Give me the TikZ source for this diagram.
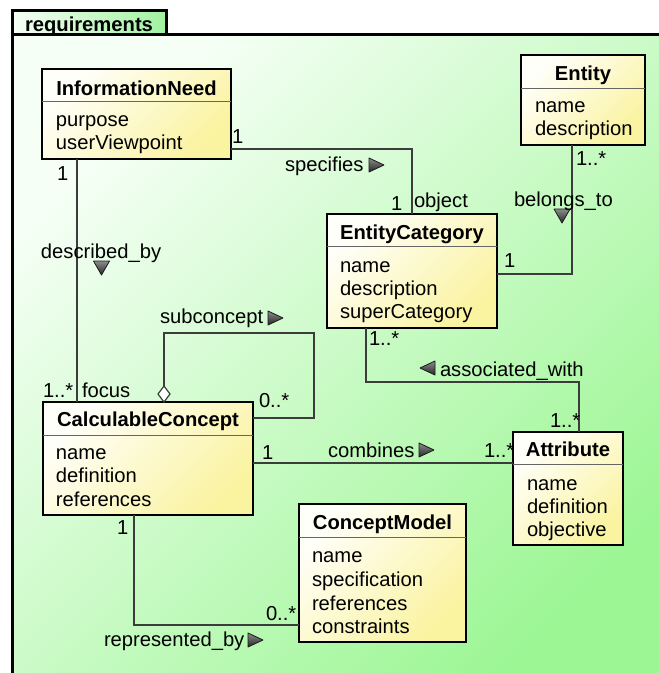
\documentclass[tikz,border=0pt]{standalone}
\usepackage{fontspec}
\setmainfont{Liberation Sans}
\usetikzlibrary{shapes.geometric}
\definecolor{pkglight}{RGB}{246,255,246}
\definecolor{pkggreen}{RGB}{156,246,148}
\definecolor{pkgtab}{RGB}{160,242,160}
\definecolor{boxlight}{RGB}{255,255,250}
\definecolor{boxyellow}{RGB}{250,243,160}
\definecolor{linegray}{RGB}{60,60,60}
\begin{document}
\begin{tikzpicture}[x=1pt,y=-1pt,
  every node/.style={font=\fontsize{20.2}{24}\selectfont, inner sep=0pt, outer sep=0pt},
  frame/.style={draw=black, line width=3pt},
  classbox/.style={draw=black, line width=2.8pt, anchor=north west,
    top color=boxlight, bottom color=boxyellow, shading angle=45},
  sepline/.style={draw=black!60, line width=1pt},
  title/.style={anchor=base, font=\fontsize{20.2}{24}\selectfont\bfseries},
  attr/.style={anchor=base west},
  lbl/.style={anchor=base west},
  assoc/.style={draw=linegray, line width=1.2pt},
  aggdiamond/.style={diamond, draw=linegray, fill=white, line width=1.2pt,
    minimum width=12pt, minimum height=16pt},
  dirtri/.style={draw=black!90, line width=0.8pt, line join=round,
    top color=black!45, bottom color=black!85},
  pics/dirright/.style={code={\shadedraw[dirtri] (-7,-7) -- (8,0) -- (-7,7) -- cycle;}},
  pics/dirleft/.style={code={\shadedraw[dirtri] (7,-7) -- (-8,0) -- (7,7) -- cycle;}},
  pics/dirdown/.style={code={\shadedraw[dirtri] (-8,-7) -- (8,-7) -- (0,7) -- cycle;}},
]
\useasboundingbox (0,0) rectangle (659,673);
\clip (0,0) rectangle (659,673);
\fill[white] (0,0) rectangle (659,673);

% package frame with its name tab
\shade[top color=pkglight, bottom color=pkggreen, shading angle=45] (12,34) rectangle (680,690);
\shade[left color=pkglight, right color=pkgtab] (12,10) rectangle (166,34);
\draw[frame] (12,34) rectangle (166,10);
\draw[frame] (12,690) -- (12,34) -- (680,34);
\node[anchor=base west, font=\fontsize{20.2}{24}\selectfont\bfseries] (pkgname) at (25,31) {requirements};

% classes
\node[classbox, minimum width=189pt, minimum height=90pt] (infoneed) at (42,69) {};
\draw[sepline] (infoneed.west |- 0,101) -- (infoneed.east |- 0,101);
\node[title] (infoneed-t) at (136.5,95) {InformationNeed};
\node[attr] (infoneed-a1) at (56,126) {purpose};
\node[attr] (infoneed-a2) at (56,149) {userViewpoint};

\node[classbox, minimum width=124pt, minimum height=90pt] (entity) at (521,55) {};
\draw[sepline] (entity.west |- 0,88) -- (entity.east |- 0,88);
\node[title] (entity-t) at (583,80) {Entity};
\node[attr] (entity-a1) at (535,112.5) {name};
\node[attr] (entity-a2) at (535,135.5) {description};

\node[classbox, minimum width=170pt, minimum height=114pt] (entcat) at (327,214) {};
\draw[sepline] (entcat.west |- 0,246) -- (entcat.east |- 0,246);
\node[title] (entcat-t) at (412,239) {EntityCategory};
\node[attr] (entcat-a1) at (340,272) {name};
\node[attr] (entcat-a2) at (340,295) {description};
\node[attr] (entcat-a3) at (340,318.5) {superCategory};

\node[classbox, minimum width=210pt, minimum height=113pt] (calc) at (43,402) {};
\draw[sepline] (calc.west |- 0,435) -- (calc.east |- 0,435);
\node[title] (calc-t) at (148,426) {CalculableConcept};
\node[attr] (calc-a1) at (56,459) {name};
\node[attr] (calc-a2) at (56,482.5) {definition};
\node[attr] (calc-a3) at (56,506) {references};

\node[classbox, minimum width=110pt, minimum height=113pt] (attr) at (513,432) {};
\draw[sepline] (attr.west |- 0,464) -- (attr.east |- 0,464);
\node[title] (attr-t) at (568,456) {Attribute};
\node[attr] (attr-a1) at (527,490) {name};
\node[attr] (attr-a2) at (527,513) {definition};
\node[attr] (attr-a3) at (527,536.5) {objective};

\node[classbox, minimum width=167pt, minimum height=138pt] (cmodel) at (299,504) {};
\draw[sepline] (cmodel.west |- 0,537) -- (cmodel.east |- 0,537);
\node[title] (cmodel-t) at (382.5,529) {ConceptModel};
\node[attr] (cmodel-a1) at (312,562.5) {name};
\node[attr] (cmodel-a2) at (312,586.5) {specification};
\node[attr] (cmodel-a3) at (312,610) {references};
\node[attr] (cmodel-a4) at (312,633) {constraints};

% associations
\draw[assoc] (infoneed.east |- 0,149) -| (entcat.north);
\draw[assoc] (entity.south -| 572,0) |- (entcat.east |- 0,274);
\draw[assoc] (infoneed.south -| 77,0) -- (calc.north -| 77,0);
\node[aggdiamond] (agg) at (164,394) {};
\draw[assoc] (agg.north) |- (314,333) |- (calc.east |- 0,418);
\draw[assoc] (calc.east |- 0,463) -- (attr.west |- 0,463);
\draw[assoc] (entcat.south -| 366,0) |- (579,382) -- (attr.north -| 579,0);
\draw[assoc] (calc.south -| 134,0) |- (cmodel.west |- 0,625);

% reading-direction markers
\pic at (376,165) {dirright};
\pic at (562,216) {dirdown};
\pic at (101.5,268) {dirdown};
\pic at (275,318) {dirright};
\pic at (426,450) {dirright};
\pic at (428,368) {dirleft};
\pic at (255,640) {dirright};

% association names, roles and multiplicities
\node[lbl] (m-spec-src) at (232,143) {1};
\node[lbl] (m-spec-name) at (285,171) {specifies};
\node[lbl] (m-spec-dst) at (391,210) {1};
\node[lbl] (m-spec-role) at (414,207) {object};
\node[lbl] (m-bel-src) at (576,165) {1..*};
\node[lbl] (m-bel-name) at (514,206) {belongs\_to};
\node[lbl] (m-bel-dst) at (504,267) {1};
\node[lbl] (m-desc-src) at (57,180) {1};
\node[lbl] (m-desc-name) at (41,258) {described\_by};
\node[lbl] (m-desc-dst) at (43,397) {1..*};
\node[lbl] (m-desc-role) at (82,397) {focus};
\node[lbl] (m-sub-name) at (160,323) {subconcept};
\node[lbl] (m-sub-dst) at (259,407) {0..*};
\node[lbl] (m-comb-src) at (262,459) {1};
\node[lbl] (m-comb-name) at (328,457) {combines};
\node[lbl] (m-comb-dst) at (484,457) {1..*};
\node[lbl] (m-assoc-src) at (369,345) {1..*};
\node[lbl] (m-assoc-name) at (440,376) {associated\_with};
\node[lbl] (m-assoc-dst) at (550,427) {1..*};
\node[lbl] (m-rep-src) at (117,534) {1};
\node[lbl] (m-rep-dst) at (266,620) {0..*};
\node[lbl] (m-rep-name) at (104,646) {represented\_by};
\end{tikzpicture}
\end{document}
